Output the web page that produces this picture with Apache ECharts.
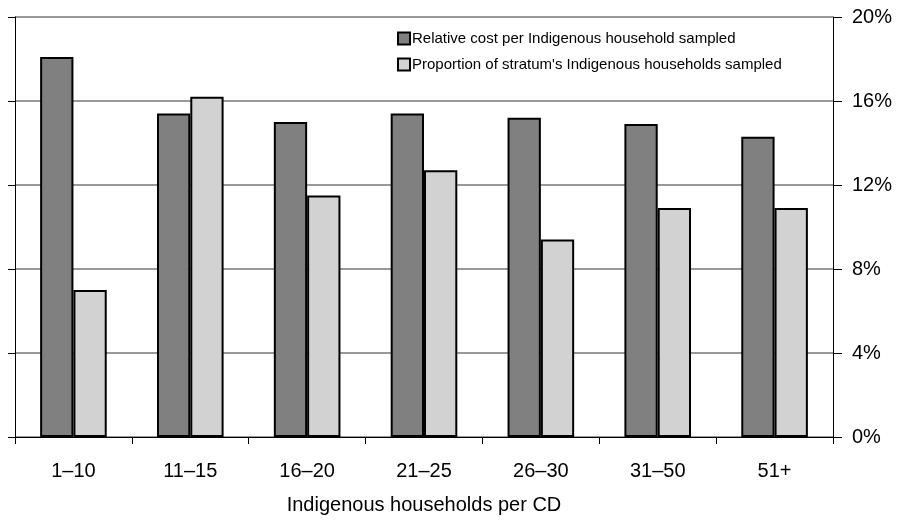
<!DOCTYPE html>
<html>
<head>
<meta charset="utf-8">
<script src="https://cdn.jsdelivr.net/npm/echarts@6/dist/echarts.min.js"></script>
<style>
  html, body { margin: 0; padding: 0; background: #fff; }
  #chart { width: 899px; height: 521px; }
</style>
</head>
<body>
<div id="chart"></div>
<script>
// Strata by number of Indigenous households per collection district
const categories = ['1–10', '11–15', '16–20', '21–25', '26–30', '31–50', '51+'];

// Percent values per stratum
const relativeCost = [18.1, 15.4, 15.0, 15.4, 15.2, 14.9, 14.3];
const proportionSampled = [7.0, 16.2, 11.5, 12.7, 9.4, 10.9, 10.9];

const seriesNames = [
  'Relative cost per Indigenous household sampled',
  "Proportion of stratum's Indigenous households sampled"
];

const yTicks = { min: 0, max: 20, interval: 4 };

const FONT = '"Liberation Sans", Arial, sans-serif';

const chart = echarts.init(document.getElementById('chart'), null, { renderer: 'canvas' });

chart.setOption({
  animation: false,
  backgroundColor: '#ffffff',
  grid: {
    left: 15, right: 66, top: 17, bottom: 84,
    containLabel: false,
    outerBoundsMode: 'none'
  },
  legend: {
    orient: 'vertical',
    left: 397,
    top: 31,
    padding: 0,
    itemWidth: 12,
    itemHeight: 12,
    itemGap: 11,
    icon: 'rect',
    textStyle: { fontFamily: FONT, fontSize: 15, color: '#000', padding: [0, 0, 0, -3] },
    data: seriesNames
  },
  xAxis: {
    type: 'category',
    data: categories,
    boundaryGap: true,
    axisLine: { show: true, onZero: false, lineStyle: { color: '#000', width: 1 } },
    axisTick: { show: true, alignWithLabel: false, length: 7, lineStyle: { color: '#000' } },
    axisLabel: { fontFamily: FONT, fontSize: 20, color: '#000', margin: 24 },
    name: 'Indigenous households per CD',
    nameLocation: 'middle',
    nameGap: 58,
    nameTextStyle: { fontFamily: FONT, fontSize: 20, color: '#000' }
  },
  yAxis: [
    {
      type: 'value',
      position: 'left',
      min: yTicks.min, max: yTicks.max, interval: yTicks.interval,
      axisLine: { show: true, lineStyle: { color: '#000', width: 1 } },
      axisTick: { show: true, inside: false, length: 7, lineStyle: { color: '#000' } },
      axisLabel: { show: false },
      splitLine: { show: true, lineStyle: { color: '#777', width: 1.5 } }
    },
    {
      type: 'value',
      position: 'right',
      min: yTicks.min, max: yTicks.max, interval: yTicks.interval,
      axisLine: { show: true, lineStyle: { color: '#000', width: 1 } },
      axisTick: { show: true, inside: false, length: 9, lineStyle: { color: '#000' } },
      axisLabel: {
        fontFamily: FONT, fontSize: 20, color: '#000', margin: 19,
        formatter: '{value}%'
      },
      splitLine: { show: false }
    }
  ],
  series: [
    {
      name: seriesNames[0],
      type: 'bar',
      data: relativeCost,
      barGap: '0%',
      barCategoryGap: '43%',
      itemStyle: { color: '#808080', borderColor: '#000', borderWidth: 2 }
    },
    {
      name: seriesNames[1],
      type: 'bar',
      data: proportionSampled,
      itemStyle: { color: '#d2d2d2', borderColor: '#000', borderWidth: 2 }
    }
  ]
});
</script>
</body>
</html>
